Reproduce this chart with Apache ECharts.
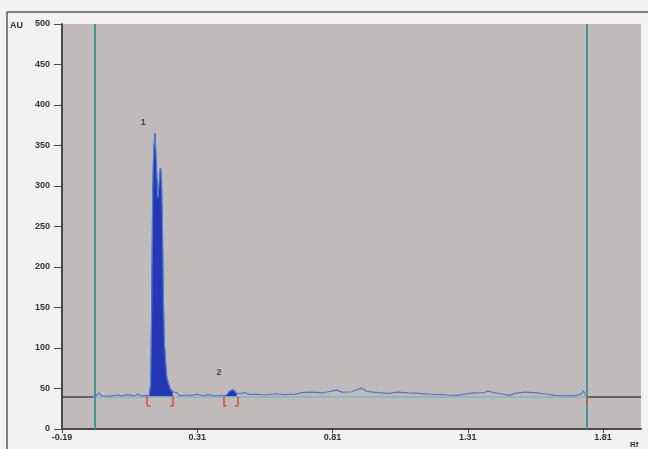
<!DOCTYPE html>
<html>
<head>
<meta charset="utf-8">
<script src="https://cdn.jsdelivr.net/npm/echarts@6/dist/echarts.min.js"></script>
<style>
  html, body { margin: 0; padding: 0; background: #f3f1f1; }
  #chart { width: 648px; height: 449px; }
</style>
</head>
<body>
<div id="chart"></div>
<script>
// densitogram trace (Rf, AU)
var traceRf = [-0.074, -0.064, -0.053, -0.042, -0.013, 0.017, 0.032, 0.054, 0.076, 0.091, 0.106, 0.120,
  0.1326, 0.1378, 0.1415, 0.1452, 0.1489, 0.1537, 0.1585, 0.1640, 0.1685, 0.1733, 0.1770, 0.1807, 0.1844, 0.1881, 0.197, 0.2091, 0.2191,
  0.234, 0.246, 0.265, 0.290, 0.309, 0.331, 0.350, 0.372, 0.394, 0.409,
  0.4187, 0.427, 0.434, 0.442, 0.449, 0.4556,
  0.471, 0.486, 0.505, 0.523, 0.560, 0.597, 0.634, 0.671, 0.696, 0.733, 0.770, 0.794, 0.825, 0.844, 0.881, 0.915, 0.936, 0.979,
  1.016, 1.053, 1.090, 1.127, 1.164, 1.213, 1.236, 1.273, 1.298, 1.335, 1.372, 1.384, 1.403, 1.433, 1.464, 1.483, 1.520, 1.557,
  1.594, 1.631, 1.680, 1.711, 1.729, 1.737, 1.744, 1.749];
var traceAu = [40.5, 41, 44.5, 41, 40.5, 42, 41, 42.5, 41, 43, 41, 41.5,
  41, 55, 150, 290, 345, 365, 330, 285, 300, 322, 318, 262, 165, 106, 64, 50, 46,
  45, 41, 42, 41.5, 43, 41, 42.5, 41, 41.5, 41,
  42, 46, 48, 48.7, 47, 44,
  44, 45, 42.5, 43, 42, 43.5, 42.5, 43, 45, 45.5, 44.5, 46, 48, 45.5, 46, 50.5, 46.5, 45,
  44, 45.5, 44.5, 44, 43, 42.5, 42, 41.5, 43, 44.5, 45, 47, 45, 43.5, 41.5, 44, 45.5, 45,
  43.5, 41.5, 41, 41.5, 43, 47, 43, 40.5];

var peakNames = ['1', '2'];
var peakStart = [0.125, 0.406];
var peakEnd = [0.221, 0.461];
var peakLabelRf = [0.11, 0.39];
var peakLabelAu = [378, 70];

var baselineAu = 40;
var trackStart = -0.074;
var trackEnd = 1.749;
var xTicks = [-0.19, 0.31, 0.81, 1.31, 1.81];

var chart = echarts.init(document.getElementById('chart'));

var series = [];
var trace = traceRf.map(function (r, i) { return [r, traceAu[i]]; });

// filled peaks down to the baseline
var redLines = [];
for (var p = 0; p < peakNames.length; p++) {
  var pts = trace.filter(function (d) { return d[0] >= peakStart[p] && d[0] <= peakEnd[p]; });
  series.push({
    type: 'line', symbol: 'none', silent: true,
    lineStyle: { color: '#2438b4', width: 0.8 },
    areaStyle: { color: '#2438b4', opacity: 1, origin: baselineAu },
    data: pts
  });
  var top = pts.reduce(function (a, b) { return b[1] > a[1] ? b : a; });
  if (p === 0) {
    redLines.push([{ coord: [top[0], top[1] - 10] }, { coord: [top[0], top[1] + 2] }]);
  } else {
    redLines.push([{ coord: [top[0], top[1]] }, { coord: [top[0], top[1] + 10] }]);
  }
  // brackets
  redLines.push([{ coord: [peakStart[p], baselineAu] }, { coord: [peakStart[p], baselineAu - 11] }]);
  redLines.push([{ coord: [peakStart[p], baselineAu - 11] }, { coord: [peakStart[p] + 0.012, baselineAu - 11] }]);
  redLines.push([{ coord: [peakEnd[p], baselineAu] }, { coord: [peakEnd[p], baselineAu - 11] }]);
  redLines.push([{ coord: [peakEnd[p], baselineAu - 11] }, { coord: [peakEnd[p] - 0.012, baselineAu - 11] }]);
}
redLines.push([{ coord: [trackEnd, baselineAu] }, { coord: [trackEnd, baselineAu - 10] }]);

// baselines and track limits
series.push({
  type: 'line', data: [], silent: true,
  markLine: {
    silent: true, symbol: 'none', label: { show: false }, animation: false,
    data: [
      [{ coord: [-0.19, baselineAu], lineStyle: { color: '#4b4747', width: 1.5 } }, { coord: [trackStart, baselineAu] }],
      [{ coord: [trackEnd, baselineAu], lineStyle: { color: '#4b4747', width: 1.5 } }, { coord: [1.95, baselineAu] }],
      [{ coord: [trackStart, baselineAu], lineStyle: { color: '#86b6ba', width: 1.5 } }, { coord: [trackEnd, baselineAu] }],
      { xAxis: trackStart, lineStyle: { color: '#3c978c', width: 2 } },
      { xAxis: trackEnd, lineStyle: { color: '#3c978c', width: 2 } }
    ],
    lineStyle: { type: 'solid' }
  }
});

// trace line
series.push({
  type: 'line', data: trace, symbol: 'none', silent: true,
  lineStyle: { color: '#4a7bd2', width: 1.2 },
  z: 5
});

// red peak markers
series.push({
  type: 'line', data: [], silent: true, z: 6,
  markLine: {
    silent: true, symbol: 'none', label: { show: false }, animation: false,
    lineStyle: { color: '#e2482e', width: 1.5, type: 'solid' },
    data: redLines
  }
});

// peak numbers
series.push({
  type: 'scatter', symbolSize: 0, silent: true,
  data: peakNames.map(function (n, i) { return { name: n, value: [peakLabelRf[i], peakLabelAu[i]] }; }),
  label: {
    show: true, position: 'inside', formatter: '{b}',
    color: '#2a2a2a', fontSize: 9, fontWeight: 'bold', fontFamily: 'Liberation Sans'
  }
});

var option = {
  backgroundColor: '#f3f1f1',
  animation: false,
  grid: {
    left: 62, right: 7, top: 24, bottom: 20,
    show: true, backgroundColor: '#c0baba', borderWidth: 0
  },
  xAxis: {
    type: 'value', min: -0.19, max: 1.95,
    axisLine: { onZero: false, lineStyle: { color: '#4b4747', width: 2 } },
    axisTick: { show: true, customValues: xTicks, length: 4, lineStyle: { color: '#4b4747' } },
    axisLabel: {
      customValues: xTicks, margin: 4,
      formatter: function (v) { return v.toFixed(2); },
      color: '#333', fontSize: 9, fontWeight: 'bold', fontFamily: 'Liberation Sans'
    },
    splitLine: { show: false }
  },
  yAxis: {
    type: 'value', min: 0, max: 500, interval: 50,
    axisLine: { show: true, onZero: false, lineStyle: { color: '#4b4747', width: 2 } },
    axisTick: { show: true, length: 8, lineStyle: { color: '#4b4747' } },
    axisLabel: { margin: 12, color: '#333', fontSize: 9, fontWeight: 'bold', fontFamily: 'Liberation Sans' },
    splitLine: { show: false }
  },
  graphic: [
    { type: 'line', shape: { x1: 7, y1: 12, x2: 648, y2: 12 }, style: { stroke: '#5a5a5a', lineWidth: 1.5 } },
    { type: 'line', shape: { x1: 7, y1: 12, x2: 7, y2: 449 }, style: { stroke: '#5a5a5a', lineWidth: 1.5 } },
    { type: 'text', left: 10, top: 21, style: { text: 'AU', fill: '#333', font: 'bold 9px "Liberation Sans"' } },
    { type: 'text', left: 630, top: 441, style: { text: 'Rf', fill: '#333', font: 'bold 8px "Liberation Sans"' } }
  ],
  series: series
};

chart.setOption(option);
</script>
</body>
</html>
